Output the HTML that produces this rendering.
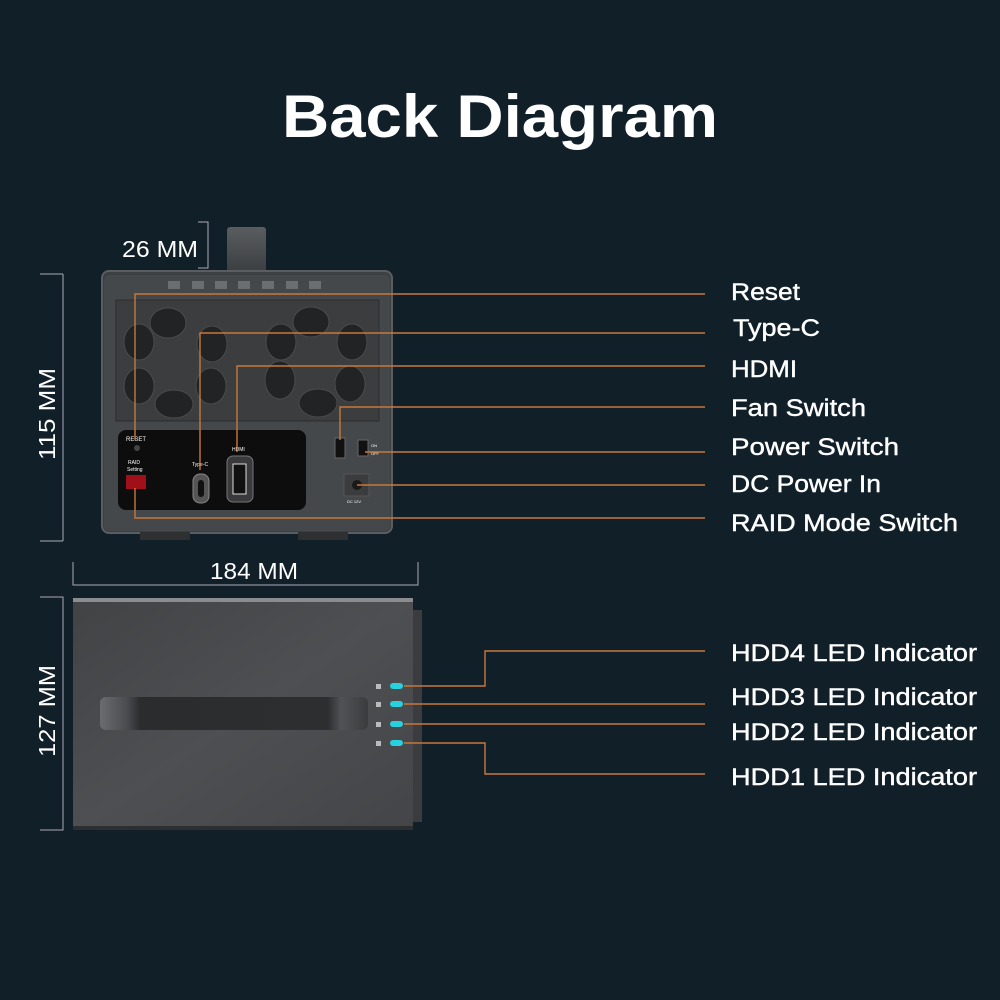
<!DOCTYPE html>
<html><head><meta charset="utf-8"><style>
html,body{margin:0;padding:0;background:#111f29;}
svg{display:block}
text{font-family:"Liberation Sans","DejaVu Sans",sans-serif;fill:#fff}
</style></head><body>
<svg width="1000" height="1000" viewBox="0 0 1000 1000" xmlns="http://www.w3.org/2000/svg">
<defs>
<linearGradient id="hd" x1="0" y1="0" x2="0" y2="1"><stop offset="0" stop-color="#5a5d60"/><stop offset="1" stop-color="#3a3d40"/></linearGradient>
<linearGradient id="bd" x1="0" y1="0" x2="1" y2="1"><stop offset="0" stop-color="#414345"/><stop offset="0.5" stop-color="#4d4f52"/><stop offset="1" stop-color="#434548"/></linearGradient>
<linearGradient id="hnd" x1="0" y1="0" x2="1" y2="0"><stop offset="0" stop-color="#6a6c6f"/><stop offset="0.1" stop-color="#4a4c4f"/><stop offset="0.15" stop-color="#2a2c2e"/><stop offset="0.85" stop-color="#2c2e30"/><stop offset="0.9" stop-color="#505255"/><stop offset="1" stop-color="#3a3c3e"/></linearGradient>
</defs>
<rect width="1000" height="1000" fill="#111f29"/>
<text x="500" y="137" text-anchor="middle" font-size="60" font-weight="bold" textLength="436" lengthAdjust="spacingAndGlyphs">Back Diagram</text>

<text x="122" y="257" font-size="23" textLength="76" lengthAdjust="spacingAndGlyphs">26 MM</text>
<path d="M198 222 H208 V268 H198" fill="none" stroke="#aab" stroke-width="1"/>
<rect x="227" y="227" width="39" height="48" rx="3" fill="url(#hd)"/>
<path d="M40 274 H63 M63 274 V541 M40 541 H63" stroke="#aab" stroke-width="1" fill="none"/>
<text transform="translate(55,460) rotate(-90)" font-size="23" textLength="92" lengthAdjust="spacingAndGlyphs">115 MM</text>

<rect x="102" y="271" width="290" height="262" rx="7" fill="#3d4043" stroke="#5b5e61" stroke-width="2"/>
<rect x="104" y="275" width="286" height="256" rx="5" fill="#45484b"/>
<g fill="#6b6e71">
<rect x="168" y="281" width="12" height="8"/><rect x="192" y="281" width="12" height="8"/><rect x="215" y="281" width="12" height="8"/><rect x="238" y="281" width="12" height="8"/><rect x="262" y="281" width="12" height="8"/><rect x="286" y="281" width="12" height="8"/><rect x="309" y="281" width="12" height="8"/>
</g>
<rect x="116" y="300" width="263" height="121" fill="#3c3d3f" stroke="#2a2b2c"/>
<g fill="#222324" stroke="#4a4b4d" stroke-width="1">
<ellipse cx="168" cy="323" rx="18" ry="15"/><ellipse cx="212" cy="344" rx="15" ry="18"/><ellipse cx="211" cy="386" rx="15" ry="18"/><ellipse cx="174" cy="404" rx="19" ry="14"/><ellipse cx="139" cy="386" rx="15" ry="18"/><ellipse cx="139" cy="342" rx="15" ry="18"/>
<ellipse cx="311" cy="322" rx="18" ry="15"/><ellipse cx="352" cy="342" rx="15" ry="18"/><ellipse cx="350" cy="384" rx="15" ry="18"/><ellipse cx="318" cy="403" rx="19" ry="14"/><ellipse cx="280" cy="380" rx="15" ry="19"/><ellipse cx="281" cy="342" rx="15" ry="18"/>
</g>
<rect x="118" y="430" width="188" height="80" rx="8" fill="#0d0d0e"/>
<text x="126" y="441" font-size="6">RESET</text>
<circle cx="137" cy="448" r="3" fill="#444"/>
<text x="128" y="464" font-size="5">RAID</text><text x="127" y="471" font-size="5">Setting</text>
<rect x="126" y="475" width="20" height="14" fill="#a0101a"/>
<text x="192" y="466" font-size="5">Type-C</text>
<rect x="193" y="474" width="16" height="29" rx="7" fill="#555" stroke="#888"/>
<rect x="198" y="480" width="6" height="17" rx="3" fill="#111"/>
<text x="232" y="451" font-size="5">HDMI</text>
<rect x="227" y="456" width="26" height="46" rx="6" fill="#3a3a3c" stroke="#777"/>
<rect x="233" y="464" width="13" height="30" fill="#111" stroke="#ddd"/>
<rect x="335" y="438" width="10" height="20" fill="#111" stroke="#666"/>
<rect x="358" y="440" width="10" height="16" fill="#111" stroke="#666"/>
<text x="371" y="447" font-size="4">ON</text><text x="371" y="455" font-size="4">OFF</text>
<rect x="344" y="474" width="25" height="22" fill="#3a3c3e" stroke="#555"/>
<circle cx="357" cy="485" r="5" fill="#1a1a1a"/>
<text x="347" y="503" font-size="4">DC 12V</text>
<rect x="140" y="532" width="50" height="8" fill="#2e3032"/><rect x="298" y="532" width="50" height="8" fill="#2e3032"/>

<g stroke="#c8783a" stroke-width="1.4" fill="none">
<path d="M135 440 V294 H705"/>
<path d="M200 470 V333 H705"/>
<path d="M237 452 V366 H705"/>
<path d="M340 440 V407 H705"/>
<path d="M365 452 H705"/>
<path d="M357 485 H705"/>
<path d="M135 488 V518 H705"/>
</g>
<g font-size="24" stroke="#fff" stroke-width="0.4">
<text x="731" y="300" textLength="69" lengthAdjust="spacingAndGlyphs">Reset</text>
<text x="733" y="336" textLength="87" lengthAdjust="spacingAndGlyphs">Type-C</text>
<text x="731" y="377" textLength="66" lengthAdjust="spacingAndGlyphs">HDMI</text>
<text x="731" y="416" textLength="135" lengthAdjust="spacingAndGlyphs">Fan Switch</text>
<text x="731" y="455" textLength="168" lengthAdjust="spacingAndGlyphs">Power Switch</text>
<text x="731" y="492" textLength="150" lengthAdjust="spacingAndGlyphs">DC Power In</text>
<text x="731" y="531" textLength="227" lengthAdjust="spacingAndGlyphs">RAID Mode Switch</text>
</g>

<path d="M73 562 V585 H418 V562" stroke="#aab" stroke-width="1" fill="none"/>
<text x="210" y="579" font-size="23" textLength="88" lengthAdjust="spacingAndGlyphs">184 MM</text>
<path d="M40 597 H63 V830 H40" stroke="#aab" stroke-width="1" fill="none"/>
<text transform="translate(55,757) rotate(-90)" font-size="23" textLength="92" lengthAdjust="spacingAndGlyphs">127 MM</text>

<rect x="410" y="610" width="12" height="212" fill="#3a3c3f"/>
<rect x="73" y="598" width="340" height="232" fill="url(#bd)"/>
<rect x="73" y="598" width="340" height="4" fill="#8a8c8e"/>
<rect x="73" y="826" width="340" height="4" fill="#2c2e30"/>
<rect x="100" y="697" width="268" height="33" rx="6" fill="url(#hnd)"/>
<g>
<rect x="376" y="684" width="5" height="5" fill="#bbb"/><rect x="390" y="683" width="13" height="6" rx="3" fill="#28d0e0"/>
<rect x="376" y="702" width="5" height="5" fill="#bbb"/><rect x="390" y="701" width="13" height="6" rx="3" fill="#28d0e0"/>
<rect x="376" y="722" width="5" height="5" fill="#bbb"/><rect x="390" y="721" width="13" height="6" rx="3" fill="#28d0e0"/>
<rect x="376" y="741" width="5" height="5" fill="#bbb"/><rect x="390" y="740" width="13" height="6" rx="3" fill="#28d0e0"/>
</g>
<g stroke="#c8783a" stroke-width="1.4" fill="none">
<path d="M404 686 H485 V651 H705"/>
<path d="M404 704 H705"/>
<path d="M404 724 H705"/>
<path d="M404 743 H485 V774 H705"/>
</g>
<g font-size="24" stroke="#fff" stroke-width="0.4">
<text x="731" y="661" textLength="246" lengthAdjust="spacingAndGlyphs">HDD4 LED Indicator</text>
<text x="731" y="705" textLength="246" lengthAdjust="spacingAndGlyphs">HDD3 LED Indicator</text>
<text x="731" y="740" textLength="246" lengthAdjust="spacingAndGlyphs">HDD2 LED Indicator</text>
<text x="731" y="785" textLength="246" lengthAdjust="spacingAndGlyphs">HDD1 LED Indicator</text>
</g>
</svg>
</body></html>
